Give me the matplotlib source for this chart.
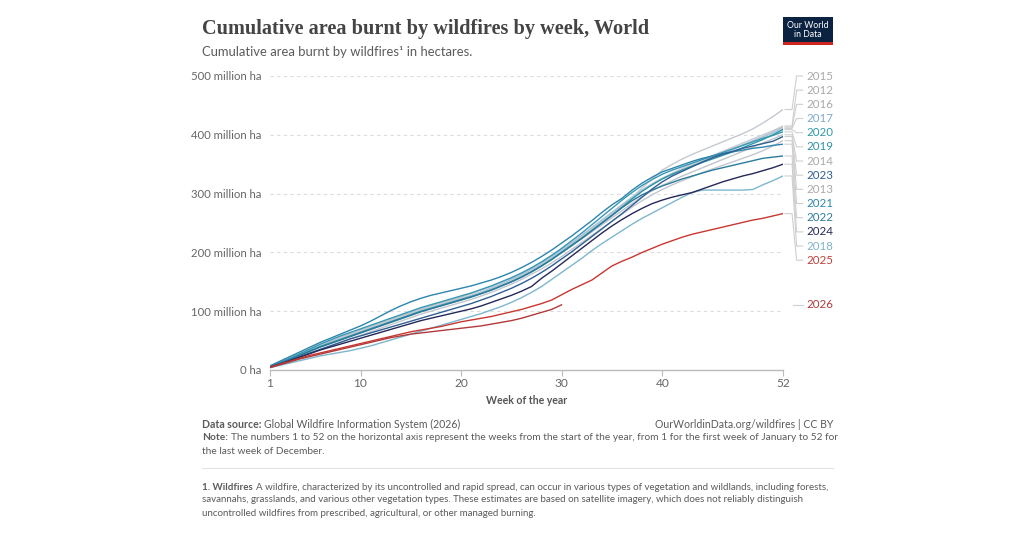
import numpy as np
import matplotlib
matplotlib.use("Agg")
from matplotlib import pyplot as plt
from matplotlib.patches import Rectangle

plt.rcParams["font.family"] = ["Lato", "DejaVu Sans"]

weeks = np.arange(1, 53)

# cumulative area burnt, million hectares, weeks 1..52
y2012 = [6, 13, 20, 27, 34, 41, 48, 54, 60, 66, 72, 78, 84, 90, 96, 102, 107, 112, 117, 122, 127, 133, 139, 146, 153, 161,
         170, 180, 191, 203, 215, 228, 241, 254, 267, 280, 293, 305, 316, 326, 335, 343, 351, 358, 365, 372, 379, 386, 393, 400, 407, 415]
y2013 = [5, 11, 17, 23, 29, 35, 41, 47, 53, 59, 65, 71, 77, 83, 89, 95, 100, 105, 110, 115, 120, 126, 132, 139, 146, 154,
         163, 172, 182, 193, 205, 217, 229, 241, 253, 265, 277, 288, 298, 307, 315, 322, 329, 336, 342, 348, 354, 360, 366, 373, 381, 390]
y2014 = [6, 12, 18, 25, 32, 39, 45, 51, 57, 63, 69, 75, 81, 87, 93, 99, 104, 109, 114, 119, 124, 130, 136, 143, 150, 158,
         167, 177, 188, 199, 211, 223, 235, 247, 259, 271, 283, 295, 305, 314, 322, 330, 337, 344, 351, 358, 365, 372, 379, 386, 393, 400]
y2015 = [6, 13, 20, 27, 34, 41, 47, 53, 59, 65, 71, 77, 83, 89, 95, 101, 106, 111, 116, 121, 126, 132, 138, 145, 152, 160,
         169, 179, 190, 202, 214, 226, 239, 252, 265, 279, 293, 310, 325, 340, 350, 359, 367, 374, 381, 388, 395, 402, 410, 420, 431, 443]
y2016 = [7, 14, 21, 28, 35, 42, 49, 56, 62, 68, 74, 80, 86, 92, 98, 104, 109, 114, 119, 124, 130, 136, 142, 149, 156, 164,
         173, 183, 194, 205, 217, 229, 242, 255, 268, 281, 294, 306, 317, 326, 334, 341, 348, 355, 362, 369, 376, 383, 390, 397, 405, 413]
y2017 = [6, 12, 19, 26, 33, 40, 46, 52, 58, 64, 70, 76, 82, 88, 94, 100, 105, 110, 115, 120, 126, 132, 139, 146, 154, 162,
         171, 181, 192, 204, 216, 229, 242, 255, 268, 281, 294, 306, 316, 325, 333, 340, 347, 354, 361, 368, 375, 382, 389, 396, 403, 411]
y2018 = [4, 8, 12, 16, 20, 24, 27, 30, 33, 37, 41, 46, 51, 56, 61, 66, 71, 76, 81, 86, 91, 96, 102, 108, 115, 123,
         132, 142, 154, 166, 178, 190, 203, 215, 226, 237, 248, 258, 267, 276, 285, 294, 302, 306, 306, 306, 306, 306, 307, 315, 322, 330]
y2019 = [6, 13, 20, 28, 36, 44, 51, 58, 64, 70, 76, 82, 88, 94, 100, 106, 111, 116, 121, 126, 131, 137, 143, 150, 157, 165,
         174, 184, 195, 207, 220, 233, 247, 261, 275, 289, 302, 314, 324, 333, 340, 346, 352, 358, 364, 370, 376, 382, 388, 394, 399, 405]
y2020 = [6, 12, 19, 26, 33, 40, 46, 52, 58, 64, 70, 76, 82, 88, 94, 100, 105, 110, 115, 120, 125, 130, 136, 143, 150, 158,
         167, 177, 188, 200, 212, 224, 237, 250, 263, 277, 291, 304, 315, 325, 333, 340, 347, 353, 359, 365, 371, 378, 385, 392, 400, 409]
y2021 = [7, 15, 23, 31, 39, 47, 54, 61, 68, 75, 83, 92, 101, 109, 116, 122, 127, 131, 135, 139, 143, 148, 153, 159, 166, 174,
         183, 193, 204, 216, 228, 241, 254, 268, 281, 292, 306, 318, 328, 337, 343, 349, 355, 360, 364, 368, 371, 374, 377, 379, 382, 384]
y2022 = [5, 11, 18, 25, 32, 39, 45, 51, 57, 63, 69, 75, 81, 87, 93, 99, 104, 109, 114, 119, 124, 130, 136, 143, 150, 158,
         167, 177, 188, 200, 212, 224, 237, 250, 263, 276, 288, 298, 306, 313, 319, 325, 330, 335, 340, 344, 348, 352, 356, 360, 362, 364]
y2023 = [5, 11, 17, 23, 29, 35, 41, 47, 53, 58, 63, 68, 73, 78, 83, 88, 93, 98, 103, 108, 113, 119, 125, 132, 139, 147,
         156, 166, 177, 189, 201, 214, 227, 240, 253, 266, 280, 294, 308, 320, 330, 338, 346, 354, 361, 367, 372, 377, 381, 385, 389, 397]
y2024 = [5, 10, 16, 22, 28, 34, 39, 44, 49, 54, 59, 64, 69, 74, 79, 84, 88, 92, 96, 100, 104, 109, 115, 121, 127, 134,
         142, 156, 168, 181, 194, 207, 220, 233, 245, 256, 266, 275, 283, 289, 294, 298, 302, 308, 314, 320, 325, 330, 334, 339, 344, 350]
y2025 = [5, 10, 15, 20, 25, 29, 33, 37, 41, 45, 49, 53, 57, 61, 65, 68, 71, 74, 78, 82, 85, 88, 91, 95, 99, 103,
         108, 113, 119, 128, 137, 145, 153, 165, 177, 185, 192, 200, 207, 214, 220, 226, 231, 235, 239, 243, 247, 251, 255, 258, 262, 266]
y2026 = [4, 9, 14, 19, 23, 27, 31, 35, 39, 43, 47, 51, 55, 58, 61, 63, 65, 67, 69, 71, 73, 75, 78, 81, 84, 88,
         93, 98, 103, 111]

years = ["2012", "2013", "2014", "2015", "2016", "2017", "2018", "2019", "2020",
         "2021", "2022", "2023", "2024", "2025", "2026"]
values = [y2012, y2013, y2014, y2015, y2016, y2017, y2018, y2019, y2020,
          y2021, y2022, y2023, y2024, y2025, y2026]
line_colors = ["#c9ccd3", "#c2c6cf", "#bfc4cc", "#c5c9d0", "#bcc3cc", "#a9c6dd", "#7db6cd",
               "#3798b4", "#2e96a8", "#2d85ad", "#2a7b9b", "#2f5f92", "#25285a", "#c8372f", "#b23a3a"]
label_colors = ["#a9a9a9", "#a9a9a9", "#a9a9a9", "#a9a9a9", "#a9a9a9", "#7fa9cc", "#7fb3c8",
                "#2f93aa", "#2f9aa6", "#2e86ad", "#2a7b9b", "#2f5f92", "#25285a", "#c0403a", "#b23a3a"]

yticks = [0, 100, 200, 300, 400, 500]
ytick_labels = ["0 ha", "100 million ha", "200 million ha", "300 million ha", "400 million ha", "500 million ha"]
xticks = [1, 10, 20, 30, 40, 52]

W, H = 1024, 540
fig = plt.figure(figsize=(W / 100, H / 100), dpi=100)
ax = fig.add_axes([270 / W, 1 - 370 / H, 513 / W, 294 / H])
ax.set_xlim(1, 52)
ax.set_ylim(0, 500)

# grid and axes
for v in yticks[1:]:
    ax.axhline(v, color="#dcdcdc", lw=0.8, ls=(0, (3, 3)), zorder=0)
for s in ["top", "right", "left"]:
    ax.spines[s].set_visible(False)
ax.spines["bottom"].set_color("#bbbbbb")
ax.spines["bottom"].set_linewidth(1.0)
ax.set_yticks(yticks)
ax.set_yticklabels(ytick_labels)
ax.set_xticks(xticks)
ax.tick_params(axis="y", length=0, pad=6, labelsize=8.2, labelcolor="#666666")
ax.tick_params(axis="x", length=4, color="#bbbbbb", pad=2, labelsize=8.6, labelcolor="#666666")
ax.set_xlabel("Week of the year", fontsize=7.6, fontweight="bold", color="#555555", labelpad=4)

# lines: grey years behind the coloured ones
order = [i for i, c in enumerate(label_colors) if c == "#a9a9a9"] + \
        [i for i, c in enumerate(label_colors) if c != "#a9a9a9"]
for i in order:
    vals = values[i]
    ax.plot(weeks[:len(vals)], vals, color=line_colors[i], lw=1.0, zorder=2 + i * 0.01,
            solid_capstyle="round")

# end labels: full years stacked from the top, the partial year at its own end
full = [i for i in range(len(years)) if len(values[i]) == 52]
full.sort(key=lambda i: -values[i][-1])
gap = 24.1
label_pos = {}
for k, i in enumerate(full):
    label_pos[i] = 500 - k * gap
for i in range(len(years)):
    if i not in label_pos:
        label_pos[i] = values[i][-1]

for i in range(len(years)):
    x_end = len(values[i])
    y_end = values[i][-1]
    y_lab = label_pos[i]
    if x_end == 52:
        xs = [52.2, 52.9, 53.35, 53.95]
    else:
        xs = [52.95, 53.3, 53.5, 53.95]
    ax.plot(xs, [y_end, y_end, y_lab, y_lab], color="#cfcfcf", lw=0.8, clip_on=False, zorder=1)
    ax.text(54.3, y_lab, years[i], color=label_colors[i], fontsize=8.3, va="center", ha="left",
            clip_on=False)

# header
fig.text(202 / W, 1 - 29 / H, "Cumulative area burnt by wildfires by week, World",
         family=["Liberation Serif", "DejaVu Serif"], fontsize=14.6, fontweight="bold", color="#444444",
         va="center", ha="left")
fig.text(202 / W, 1 - 52 / H, "Cumulative area burnt by wildfires\u00b9 in hectares.",
         fontsize=9.4, color="#5b5b5b", va="center", ha="left")

# logo
fig.patches.append(Rectangle((783 / W, 1 - 45 / H), 50 / W, 28 / H, transform=fig.transFigure,
                             facecolor="#0b2341", edgecolor="none"))
fig.patches.append(Rectangle((783 / W, 1 - 45 / H), 50 / W, 2.5 / H, transform=fig.transFigure,
                             facecolor="#ce261e", edgecolor="none"))
fig.text(808 / W, 1 - 30 / H, "Our World\nin Data", color="white", fontsize=6.3, ha="center",
         va="center", linespacing=1.0)

# footer
renderer = fig.canvas.get_renderer()


def rich(x, y, bold, rest, size, color="#5b5b5b"):
    t = fig.text(x / W, 1 - y / H, bold, fontsize=size, fontweight="bold", color=color,
                 va="center", ha="left")
    bb = t.get_window_extent(renderer)
    fig.text(bb.x1 / W + 3 / W, 1 - y / H, rest, fontsize=size, color=color, va="center", ha="left")


rich(202, 424, "Data source:", "Global Wildfire Information System (2026)", 7.6)
fig.text(833 / W, 1 - 424 / H, "OurWorldinData.org/wildfires | CC BY", fontsize=7.6, color="#5b5b5b",
         va="center", ha="right")
rich(202, 438, "Note:", "The numbers 1 to 52 on the horizontal axis represent the weeks from the start of the year, "
     "from 1 for the first week of January to 52 for", 7.25)
fig.text(202 / W, 1 - 451 / H, "the last week of December.", fontsize=7.25, color="#5b5b5b",
         va="center", ha="left")
fig.add_artist(plt.Line2D([202 / W, 833 / W], [1 - 468 / H, 1 - 468 / H], color="#e3e3e3", lw=0.8))
rich(202, 487, "1. Wildfires", "A wildfire, characterized by its uncontrolled and rapid spread, can occur in various "
     "types of vegetation and wildlands, including forests,", 7.0)
fig.text(202 / W, 1 - 500 / H, "savannahs, grasslands, and various other vegetation types. These estimates are based "
         "on satellite imagery, which does not reliably distinguish", fontsize=7.0, color="#5b5b5b",
         va="center", ha="left")
fig.text(202 / W, 1 - 513 / H, "uncontrolled wildfires from prescribed, agricultural, or other managed burning.",
         fontsize=7.0, color="#5b5b5b", va="center", ha="left")

fig.savefig("out.png", dpi=100, facecolor="white")
